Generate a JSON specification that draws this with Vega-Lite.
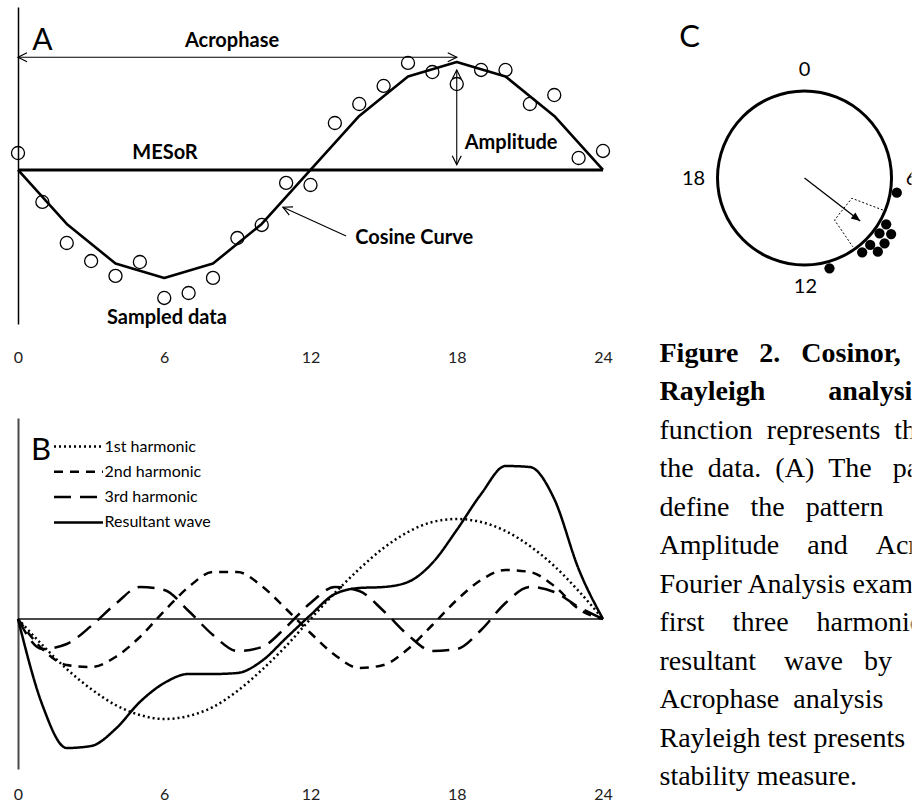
{
  "$schema": "https://vega.github.io/schema/vega-lite/v6.json",
  "autosize": {"type": "pad"},
  "padding": {"left": 8, "top": 7, "right": 0, "bottom": 0},
  "background": "white",
  "config": {
    "view": {"stroke": null},
    "font": "Lato",
    "axis": {"grid": false, "ticks": false, "title": null}
  },
  "datasets": {
    "mesor": [{"t": 0, "t2": 24, "v": 0}],
    "cosineFit": [
      {"t": 0, "v": 0}, {"t": 2, "v": -0.5}, {"t": 4, "v": -0.866}, {"t": 6, "v": -1}, {"t": 8, "v": -0.866},
      {"t": 10, "v": -0.5}, {"t": 12, "v": 0}, {"t": 14, "v": 0.5}, {"t": 16, "v": 0.866}, {"t": 18, "v": 1},
      {"t": 20, "v": 0.866}, {"t": 22, "v": 0.5}, {"t": 24, "v": 0}
    ],
    "sampled": [
      {"t": 0, "v": 0.157}, {"t": 1, "v": -0.296}, {"t": 2, "v": -0.676}, {"t": 3, "v": -0.843}, {"t": 4, "v": -0.981},
      {"t": 5, "v": -0.852}, {"t": 6, "v": -1.185}, {"t": 7, "v": -1.139}, {"t": 8, "v": -0.999}, {"t": 9, "v": -0.63},
      {"t": 10, "v": -0.509}, {"t": 11, "v": -0.12}, {"t": 12, "v": -0.139}, {"t": 13, "v": 0.435}, {"t": 14, "v": 0.611},
      {"t": 15, "v": 0.778}, {"t": 16, "v": 0.991}, {"t": 17, "v": 0.907}, {"t": 18, "v": 0.796}, {"t": 19, "v": 0.926},
      {"t": 20, "v": 0.926}, {"t": 21, "v": 0.611}, {"t": 22, "v": 0.694}, {"t": 23, "v": 0.111}, {"t": 24, "v": 0.176}
    ],
    "annotationLines": [
      {"name": "Acrophase", "t": 0, "v": 1.044, "t2": 18, "v2": 1.044},
      {"name": "Amplitude", "t": 18, "v": 0.926, "t2": 18, "v2": 0.049},
      {"name": "Cosine Curve", "t": 13.46, "v": -0.611, "t2": 10.87, "v2": -0.345}
    ],
    "arrowHeads": [
      {"t": 0, "v": 1.044, "dir": 180},
      {"t": 18, "v": 1.044, "dir": 0},
      {"t": 18, "v": 0.926, "dir": 270},
      {"t": 18, "v": 0.049, "dir": 90},
      {"t": 10.87, "v": -0.345, "dir": 204.5}
    ],
    "labelsA": [
      {"label": "Acrophase", "t": 8.78, "v": 1.194},
      {"label": "MESoR", "t": 6.03, "v": 0.157},
      {"label": "Amplitude", "t": 20.23, "v": 0.253},
      {"label": "Cosine Curve", "t": 16.25, "v": -0.627},
      {"label": "Sampled data", "t": 6.11, "v": -1.366}
    ],
    "baseline": [{"t": 0, "t2": 24, "v": 0}],
    "harmonics": [
      {"series": "1st harmonic", "t": 0, "v": 0}, {"series": "1st harmonic", "t": 1, "v": -0.26}, {"series": "1st harmonic", "t": 2, "v": -0.5},
      {"series": "1st harmonic", "t": 3, "v": -0.7}, {"series": "1st harmonic", "t": 4, "v": -0.86}, {"series": "1st harmonic", "t": 5, "v": -0.96},
      {"series": "1st harmonic", "t": 6, "v": -1.0}, {"series": "1st harmonic", "t": 7, "v": -0.97}, {"series": "1st harmonic", "t": 8, "v": -0.88},
      {"series": "1st harmonic", "t": 9, "v": -0.72}, {"series": "1st harmonic", "t": 10, "v": -0.51}, {"series": "1st harmonic", "t": 11, "v": -0.27},
      {"series": "1st harmonic", "t": 12, "v": 0}, {"series": "1st harmonic", "t": 13, "v": 0.26}, {"series": "1st harmonic", "t": 14, "v": 0.5},
      {"series": "1st harmonic", "t": 15, "v": 0.71}, {"series": "1st harmonic", "t": 16, "v": 0.87}, {"series": "1st harmonic", "t": 17, "v": 0.97},
      {"series": "1st harmonic", "t": 18, "v": 1.0}, {"series": "1st harmonic", "t": 19, "v": 0.97}, {"series": "1st harmonic", "t": 20, "v": 0.88},
      {"series": "1st harmonic", "t": 21, "v": 0.73}, {"series": "1st harmonic", "t": 22, "v": 0.53}, {"series": "1st harmonic", "t": 23, "v": 0.28},
      {"series": "1st harmonic", "t": 24, "v": 0},
      {"series": "2nd harmonic", "t": 0, "v": 0}, {"series": "2nd harmonic", "t": 1, "v": -0.3}, {"series": "2nd harmonic", "t": 2, "v": -0.46},
      {"series": "2nd harmonic", "t": 3, "v": -0.48}, {"series": "2nd harmonic", "t": 4, "v": -0.38}, {"series": "2nd harmonic", "t": 5, "v": -0.18},
      {"series": "2nd harmonic", "t": 6, "v": 0.08}, {"series": "2nd harmonic", "t": 7, "v": 0.32}, {"series": "2nd harmonic", "t": 8, "v": 0.47},
      {"series": "2nd harmonic", "t": 9, "v": 0.47}, {"series": "2nd harmonic", "t": 10, "v": 0.33}, {"series": "2nd harmonic", "t": 11, "v": 0.1},
      {"series": "2nd harmonic", "t": 12, "v": -0.14}, {"series": "2nd harmonic", "t": 13, "v": -0.36}, {"series": "2nd harmonic", "t": 14, "v": -0.49},
      {"series": "2nd harmonic", "t": 15, "v": -0.46}, {"series": "2nd harmonic", "t": 16, "v": -0.3}, {"series": "2nd harmonic", "t": 17, "v": -0.06},
      {"series": "2nd harmonic", "t": 18, "v": 0.19}, {"series": "2nd harmonic", "t": 19, "v": 0.39}, {"series": "2nd harmonic", "t": 20, "v": 0.49},
      {"series": "2nd harmonic", "t": 21, "v": 0.47}, {"series": "2nd harmonic", "t": 22, "v": 0.33}, {"series": "2nd harmonic", "t": 23, "v": 0.1},
      {"series": "2nd harmonic", "t": 24, "v": 0},
      {"series": "3rd harmonic", "t": 0, "v": 0}, {"series": "3rd harmonic", "t": 1, "v": -0.3}, {"series": "3rd harmonic", "t": 2, "v": -0.25},
      {"series": "3rd harmonic", "t": 3, "v": -0.07}, {"series": "3rd harmonic", "t": 4, "v": 0.15}, {"series": "3rd harmonic", "t": 5, "v": 0.32},
      {"series": "3rd harmonic", "t": 6, "v": 0.29}, {"series": "3rd harmonic", "t": 7, "v": 0.08}, {"series": "3rd harmonic", "t": 8, "v": -0.16},
      {"series": "3rd harmonic", "t": 9, "v": -0.32}, {"series": "3rd harmonic", "t": 10, "v": -0.28}, {"series": "3rd harmonic", "t": 11, "v": -0.08},
      {"series": "3rd harmonic", "t": 12, "v": 0.16}, {"series": "3rd harmonic", "t": 13, "v": 0.32}, {"series": "3rd harmonic", "t": 14, "v": 0.28},
      {"series": "3rd harmonic", "t": 15, "v": 0.08}, {"series": "3rd harmonic", "t": 16, "v": -0.16}, {"series": "3rd harmonic", "t": 17, "v": -0.32},
      {"series": "3rd harmonic", "t": 18, "v": -0.3}, {"series": "3rd harmonic", "t": 19, "v": -0.11}, {"series": "3rd harmonic", "t": 20, "v": 0.16},
      {"series": "3rd harmonic", "t": 21, "v": 0.32}, {"series": "3rd harmonic", "t": 22, "v": 0.27}, {"series": "3rd harmonic", "t": 23, "v": 0.12},
      {"series": "3rd harmonic", "t": 24, "v": 0},
      {"series": "Resultant wave", "t": 0, "v": 0}, {"series": "Resultant wave", "t": 1, "v": -0.86}, {"series": "Resultant wave", "t": 2, "v": -1.29},
      {"series": "Resultant wave", "t": 3, "v": -1.27}, {"series": "Resultant wave", "t": 4, "v": -1.1}, {"series": "Resultant wave", "t": 5, "v": -0.83},
      {"series": "Resultant wave", "t": 6, "v": -0.64}, {"series": "Resultant wave", "t": 7, "v": -0.55}, {"series": "Resultant wave", "t": 8, "v": -0.55},
      {"series": "Resultant wave", "t": 9, "v": -0.54}, {"series": "Resultant wave", "t": 10, "v": -0.42}, {"series": "Resultant wave", "t": 11, "v": -0.19},
      {"series": "Resultant wave", "t": 12, "v": 0.04}, {"series": "Resultant wave", "t": 13, "v": 0.25}, {"series": "Resultant wave", "t": 14, "v": 0.31},
      {"series": "Resultant wave", "t": 15, "v": 0.32}, {"series": "Resultant wave", "t": 16, "v": 0.37}, {"series": "Resultant wave", "t": 17, "v": 0.56},
      {"series": "Resultant wave", "t": 18, "v": 0.89}, {"series": "Resultant wave", "t": 19, "v": 1.25}, {"series": "Resultant wave", "t": 20, "v": 1.53},
      {"series": "Resultant wave", "t": 21, "v": 1.52}, {"series": "Resultant wave", "t": 22, "v": 1.2}, {"series": "Resultant wave", "t": 23, "v": 0.5},
      {"series": "Resultant wave", "t": 24, "v": 0}
    ],
    "phases": [
      {"x": 1.061, "y": -0.169}, {"x": 0.939, "y": -0.532}, {"x": 0.862, "y": -0.636}, {"x": 0.996, "y": -0.644},
      {"x": 0.755, "y": -0.77}, {"x": 0.92, "y": -0.751}, {"x": 0.663, "y": -0.854}, {"x": 0.843, "y": -0.847},
      {"x": 0.287, "y": -1.038}
    ],
    "bracket": [
      {"k": 0, "x": 0.9, "y": -0.368}, {"k": 1, "x": 0.544, "y": -0.233},
      {"k": 2, "x": 0.345, "y": -0.483}, {"k": 3, "x": 0.555, "y": -0.79}
    ],
    "meanVector": [{"x": 0, "y": 0, "x2": 0.64, "y2": -0.494}],
    "vectorTip": [{"x": 0.64, "y": -0.494, "dir": 37.7}],
    "clock": [
      {"x": 0, "y": 1.241, "hour": "0"}, {"x": 1.23, "y": -0.011, "hour": "6"},
      {"x": 0.011, "y": -1.253, "hour": "12"}, {"x": -1.276, "y": -0.011, "hour": "18"}
    ],
    "caption": [
      {"line": 0, "kind": "title", "text": "Figure\u00a0\u00a0\u00a02.\u00a0\u00a0\u00a0Cosinor,"},
      {"line": 1, "kind": "title", "text": "Rayleigh\u00a0\u00a0\u00a0\u00a0\u00a0\u00a0\u00a0\u00a0\u00a0analysis."},
      {"line": 2, "kind": "body", "text": "function\u00a0\u00a0represents\u00a0\u00a0the"},
      {"line": 3, "kind": "body", "text": "the\u00a0\u00a0data.\u00a0\u00a0(A)\u00a0\u00a0The\u00a0\u00a0\u00a0parameters"},
      {"line": 4, "kind": "body", "text": "define\u00a0\u00a0\u00a0the\u00a0\u00a0\u00a0pattern"},
      {"line": 5, "kind": "body", "text": "Amplitude\u00a0\u00a0\u00a0\u00a0and\u00a0\u00a0\u00a0\u00a0Acrophase"},
      {"line": 6, "kind": "body", "text": "Fourier Analysis examines"},
      {"line": 7, "kind": "body", "text": "first\u00a0\u00a0\u00a0\u00a0three\u00a0\u00a0\u00a0\u00a0harmonics"},
      {"line": 8, "kind": "body", "text": "resultant\u00a0\u00a0\u00a0\u00a0wave\u00a0\u00a0\u00a0by"},
      {"line": 9, "kind": "body", "text": "Acrophase\u00a0\u00a0analysis"},
      {"line": 10, "kind": "body", "text": "Rayleigh test presents"},
      {"line": 11, "kind": "body", "text": "stability measure."}
    ]
  },
  "bounds": "full",
  "spacing": 46.5,
  "resolve": {"legend": {"strokeDash": "independent"}},
  "hconcat": [
    {
      "bounds": "flush",
      "spacing": 94,
      "resolve": {"legend": {"strokeDash": "independent"}},
      "vconcat": [
        {
          "width": 585,
          "height": 317,
          "encoding": {
            "x": {"field": "t", "type": "quantitative", "scale": {"domain": [0, 24], "nice": false, "zero": false},
                  "axis": {"values": [0, 6, 12, 18, 24], "domain": false, "labelPadding": 25, "labelFontSize": 16, "labelFont": "Lato", "labelColor": "#222222", "labelFlush": false}},
            "y": {"field": "v", "type": "quantitative", "scale": {"domain": [-1.426, 1.509], "nice": false, "zero": false},
                  "axis": {"domain": true, "domainColor": "black", "domainWidth": 1.5, "labels": false}}
          },
          "layer": [
            {"data": {"name": "mesor"}, "mark": {"type": "rule", "color": "black", "strokeWidth": 3}, "encoding": {"x2": {"field": "t2"}}},
            {"data": {"name": "cosineFit"}, "mark": {"type": "line", "color": "black", "strokeWidth": 2.6, "strokeJoin": "round"}},
            {"data": {"name": "sampled"}, "mark": {"type": "point", "shape": "circle", "filled": false, "size": 170, "color": "black", "strokeWidth": 1.3, "opacity": 1}},
            {"data": {"name": "annotationLines"}, "mark": {"type": "rule", "color": "black", "strokeWidth": 1.1}, "encoding": {"x2": {"field": "t2"}, "y2": {"field": "v2"}}},
            {"data": {"name": "arrowHeads"}, "mark": {"type": "point", "shape": "M-1,-0.5L0,0L-1,0.5", "filled": false, "size": 324, "color": "black", "strokeWidth": 1.2, "opacity": 1},
             "encoding": {"angle": {"field": "dir", "type": "quantitative", "scale": null}}},
            {"data": {"name": "labelsA"}, "mark": {"type": "text", "font": "Lato", "fontWeight": "bold", "fontSize": 20, "color": "black", "align": "center", "baseline": "middle"},
             "encoding": {"text": {"field": "label"}}},
            {"data": {"values": [{"t": 1.0, "v": 1.19, "tag": "A"}]}, "mark": {"type": "text", "font": "Lato", "fontSize": 30, "color": "black", "align": "center", "baseline": "middle"},
             "encoding": {"text": {"field": "tag"}}}
          ]
        },
        {
          "width": 585,
          "height": 351,
          "encoding": {
            "x": {"field": "t", "type": "quantitative", "scale": {"domain": [0, 24], "nice": false, "zero": false},
                  "axis": {"values": [0, 6, 12, 18, 24], "domain": false, "labelPadding": 17, "labelFontSize": 16, "labelFont": "Lato", "labelColor": "#222222", "labelFlush": false}},
            "y": {"field": "v", "type": "quantitative", "scale": {"domain": [-1.5, 2.01], "nice": false, "zero": false},
                  "axis": {"domain": true, "domainColor": "#4a4a4a", "domainWidth": 2, "labels": false}}
          },
          "layer": [
            {"data": {"name": "baseline"}, "mark": {"type": "rule", "color": "#4a4a4a", "strokeWidth": 2}, "encoding": {"x2": {"field": "t2"}}},
            {"data": {"name": "harmonics"}, "mark": {"type": "line", "color": "black", "strokeWidth": 2.5, "interpolate": "monotone"},
             "encoding": {"strokeDash": {"field": "series", "type": "nominal",
               "scale": {"domain": ["1st harmonic", "2nd harmonic", "3rd harmonic", "Resultant wave"], "range": [[2, 3], [9, 7], [17, 9], [1, 0]]},
               "legend": {"orient": "none", "legendX": 34.5, "legendY": 18.5, "title": null, "padding": 0,
                          "symbolType": "stroke", "symbolSize": 2401, "symbolStrokeWidth": 2.5, "symbolStrokeColor": "black",
                          "clipHeight": 20, "rowPadding": 5.3, "labelOffset": 0,
                          "labelFont": "Lato", "labelFontSize": 16, "labelColor": "black"}}}},
            {"data": {"values": [{"t": 0.94, "v": 1.68, "tag": "B"}]}, "mark": {"type": "text", "font": "Lato", "fontSize": 31, "color": "black", "align": "center", "baseline": "middle"},
             "encoding": {"text": {"field": "tag"}}}
          ]
        }
      ]
    },
    {
      "width": 252,
      "height": 792,
      "resolve": {"scale": {"x": "independent", "y": "independent"}},
      "layer": [
        {
          "encoding": {
            "x": {"field": "x", "type": "quantitative", "scale": {"domain": [-1.667, 1.23], "nice": false, "zero": false}, "axis": null},
            "y": {"field": "y", "type": "quantitative", "scale": {"domain": [-7.138, 1.9655], "nice": false, "zero": false}, "axis": null}
          },
          "layer": [
            {"data": {"values": [{"x": 0, "y": 0}]}, "mark": {"type": "point", "shape": "circle", "filled": false, "size": 30276, "color": "black", "strokeWidth": 3, "opacity": 1}},
            {"data": {"name": "phases"}, "mark": {"type": "point", "shape": "circle", "filled": true, "size": 105, "color": "black", "opacity": 1}},
            {"data": {"name": "bracket"}, "mark": {"type": "line", "color": "black", "strokeWidth": 1, "strokeDash": [2, 2]}, "encoding": {"order": {"field": "k"}}},
            {"data": {"name": "meanVector"}, "mark": {"type": "rule", "color": "black", "strokeWidth": 1.3}, "encoding": {"x2": {"field": "x2"}, "y2": {"field": "y2"}}},
            {"data": {"name": "vectorTip"}, "mark": {"type": "point", "shape": "M0,0L-1,-0.42L-1,0.42Z", "filled": true, "size": 324, "color": "black", "opacity": 1},
             "encoding": {"angle": {"field": "dir", "type": "quantitative", "scale": null}}},
            {"data": {"name": "clock"}, "mark": {"type": "text", "font": "Lato", "fontSize": 20, "color": "black", "align": "center", "baseline": "middle", "clip": true},
             "encoding": {"text": {"field": "hour"}}},
            {"data": {"values": [{"x": -1.322, "y": 1.609, "tag": "C"}]}, "mark": {"type": "text", "font": "Lato", "fontSize": 31, "color": "black", "align": "center", "baseline": "middle"},
             "encoding": {"text": {"field": "tag"}}}
          ]
        },
        {
          "data": {"name": "caption"},
          "encoding": {
            "x": {"value": 0},
            "y": {"field": "line", "type": "quantitative", "scale": {"domain": [-9.221, 11.351], "reverse": true, "nice": false, "zero": false}, "axis": null},
            "text": {"field": "text"}
          },
          "layer": [
            {"transform": [{"filter": "datum.kind == 'title'"}],
             "mark": {"type": "text", "font": "Liberation Serif", "fontSize": 28, "fontWeight": "bold", "color": "black", "align": "left", "baseline": "alphabetic", "clip": true}},
            {"transform": [{"filter": "datum.kind == 'body'"}],
             "mark": {"type": "text", "font": "Liberation Serif", "fontSize": 28, "color": "black", "align": "left", "baseline": "alphabetic", "clip": true}}
          ]
        }
      ]
    }
  ]
}
